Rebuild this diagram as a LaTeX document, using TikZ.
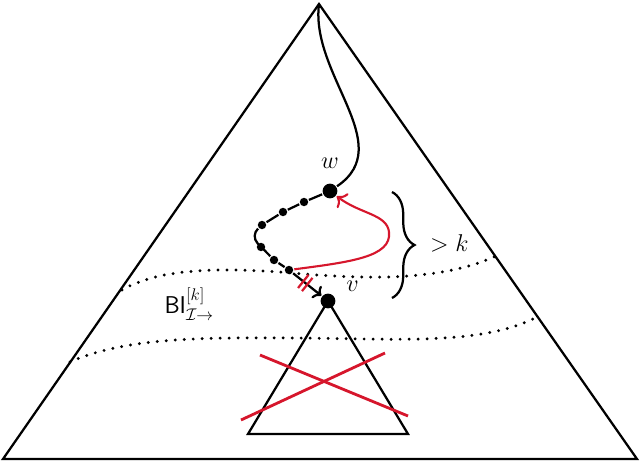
\documentclass[tikz,border=0pt]{standalone}
\usepackage{amsmath}
\usepackage{amssymb}
\usepackage{tikz}
\usetikzlibrary{positioning, calc, arrows.meta, decorations.pathreplacing}
\definecolor{cutred}{RGB}{214,22,44}

\begin{document}
\begin{tikzpicture}[x=0.025cm, y=-0.025cm, line width=1.6pt,
>={To[length=5pt, width=11pt]},
big/.style = {circle, fill, inner sep=0pt, minimum size=10.5pt},
small/.style = {circle, fill, inner sep=0pt, minimum size=6pt},
lbl/.style = {font=\LARGE, inner sep=1pt},
dots/.style = {line width=2.3pt, line cap=round, dash pattern=on 0pt off 6.4pt},
cut/.style = {cutred, line width=2pt}]
\useasboundingbox (0,0) rectangle (640,462);
% big tree
\coordinate (top) at (319,4);
\coordinate (bl) at (3,459);
\coordinate (br) at (637,459);
\draw (top) -- (bl) -- (br) -- cycle;

% levels
\draw[dots] (122,290) .. controls (160,268) and (220,268) .. (280,272)
  .. controls (350,278) and (440,285) .. (502,253);
\draw[dots] (70,362) .. controls (130,335) and (220,338) .. (300,338)
  .. controls (400,339) and (480,345) .. (535,318);

% path nodes
\node[big] (w) at (330,191) {};
\node[small] (d1) at (304,202) {};
\node[small] (d2) at (283,212) {};
\node[small] (d3) at (262,225) {};
\node[small] (d4) at (261,247) {};
\node[small] (d5) at (274,260) {};
\node[small] (d6) at (289,270) {};
\node[big] (v) at (328,301) {};

% subtree of v
\coordinate (sbl) at (248,434);
\coordinate (sbr) at (408,434);
\draw (v.center) -- (sbl) -- (sbr) -- cycle;
\draw[cut] (260,355) -- (408,416);
\draw[cut] (241,420) -- (385,353);

\draw (top) .. controls (310,75) and (398,145) .. (w);
\draw (w) -- (d1) -- (d2) -- (d3) to[bend right=45] (d4) -- (d5) -- (d6);
\draw[->] (d6) -- (v);
\path (d6) -- (v) coordinate[pos=0.36] (cuta) coordinate[pos=0.5] (cutb);
\draw[cut, line width=1.6pt] ($(cuta)!6pt!90:(v)$) -- ($(cuta)!6pt!-90:(v)$);
\draw[cut, line width=1.6pt] ($(cutb)!6pt!90:(v)$) -- ($(cutb)!6pt!-90:(v)$);
\draw[cutred, line width=1.5pt, -{To[length=6pt, width=13pt]}] (d6) .. controls (350,262) and (392,257) .. (389,232)
  .. controls (387,214) and (360,214) .. (w);

% brace
\draw[decorate, decoration={brace, amplitude=16pt}] (392,192) -- (392,298)
  coordinate[midway] (bmid);
\coordinate (btip) at (415,243);

% labels
\node[lbl, above=8pt of w] (wl) {$w$};
\node[lbl, above right=1pt and 7pt of v] (vl) {$v$};
\node[lbl, right=9pt of btip] (gk) {$>k$};
\node[lbl, anchor=base west] (bil) at (162,313) {$\mathsf{BI}^{[k]}_{\mathcal{I}\to}$};
\end{tikzpicture}
\end{document}
